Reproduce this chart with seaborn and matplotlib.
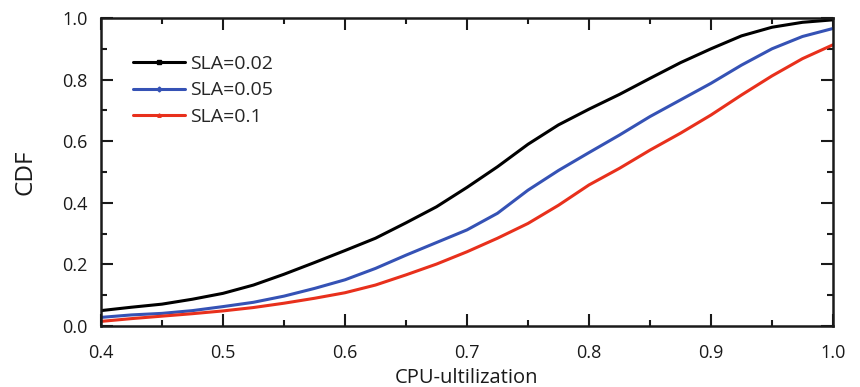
import numpy as np
import pandas as pd
import seaborn as sns
import matplotlib
matplotlib.use("Agg")
import matplotlib.pyplot as plt
from matplotlib.lines import Line2D
from matplotlib.ticker import MultipleLocator

cpu = [0.400, 0.425, 0.450, 0.475, 0.500, 0.525, 0.550, 0.575, 0.600, 0.625, 0.650, 0.675,
       0.700, 0.725, 0.750, 0.775, 0.800, 0.825, 0.850, 0.875, 0.900, 0.925, 0.950, 0.975, 1.000]
cdf_002 = [0.050, 0.061, 0.071, 0.087, 0.106, 0.133, 0.168, 0.206, 0.245, 0.285, 0.335, 0.387,
           0.450, 0.517, 0.590, 0.653, 0.704, 0.752, 0.804, 0.855, 0.900, 0.942, 0.970, 0.986, 0.994]
cdf_005 = [0.028, 0.036, 0.041, 0.050, 0.063, 0.077, 0.097, 0.122, 0.150, 0.187, 0.230, 0.271,
           0.312, 0.366, 0.441, 0.505, 0.563, 0.620, 0.680, 0.734, 0.788, 0.847, 0.900, 0.940, 0.966]
cdf_01 = [0.015, 0.024, 0.032, 0.040, 0.049, 0.060, 0.074, 0.090, 0.108, 0.133, 0.166, 0.201,
          0.241, 0.285, 0.333, 0.392, 0.458, 0.512, 0.571, 0.626, 0.685, 0.750, 0.812, 0.868, 0.913]
labels = ["SLA=0.02", "SLA=0.05", "SLA=0.1"]
colors = ["#000000", "#3552B5", "#E8301C"]
markers = ["s", "D", "^"]

df = pd.DataFrame({
    "cpu": cpu * 3,
    "cdf": cdf_002 + cdf_005 + cdf_01,
    "sla": [labels[0]] * len(cpu) + [labels[1]] * len(cpu) + [labels[2]] * len(cpu),
})

sns.set_theme(style="ticks")
plt.rcParams["font.family"] = ["Open Sans", "DejaVu Sans"]

fig = plt.figure(figsize=(8.6, 3.87), dpi=100)
ax = fig.add_axes([0.1174, 0.1576, 0.8512, 0.7959])

sns.lineplot(data=df, x="cpu", y="cdf", hue="sla", hue_order=labels,
             palette=colors, linewidth=2.2, ax=ax, legend=False)

ax.set_xlim(0.4, 1.0)
ax.set_ylim(0.0, 1.0)
ax.xaxis.set_major_locator(MultipleLocator(0.1))
ax.xaxis.set_minor_locator(MultipleLocator(0.05))
ax.yaxis.set_major_locator(MultipleLocator(0.2))
ax.yaxis.set_minor_locator(MultipleLocator(0.1))
ax.tick_params(which="both", direction="in", top=True, right=True, width=1.5, colors="#1a1a1a",
               labelsize=13, labelcolor="#1a1a1a")
ax.tick_params(which="major", length=8.5)
ax.tick_params(which="minor", length=4.5)
ax.tick_params(axis="x", which="major", pad=13)
ax.tick_params(axis="y", which="major", pad=9.5)
ax.set_xticklabels([f"{v:.1f}" for v in ax.get_xticks()])
ax.set_yticklabels([f"{v:.1f}" for v in ax.get_yticks()])
for s in ax.spines.values():
    s.set_linewidth(1.8)
    s.set_color("#1a1a1a")

ax.set_xlabel("CPU-ultilization", fontsize=14.5, labelpad=4, color="#1a1a1a")
ax.set_ylabel("CDF", fontsize=17.5, labelpad=18, color="#1a1a1a")

handles = [Line2D([0], [0], color=c, lw=2.2, marker=m, markersize=2.5) for c, m in zip(colors, markers)]
ax.legend(handles, labels, loc="upper left", bbox_to_anchor=(0.0437, 0.879), frameon=False,
          fontsize=14, handlelength=2.7, handletextpad=0.25, labelspacing=0.42,
          borderpad=0, borderaxespad=0)

fig.savefig("out.png", dpi=100)
